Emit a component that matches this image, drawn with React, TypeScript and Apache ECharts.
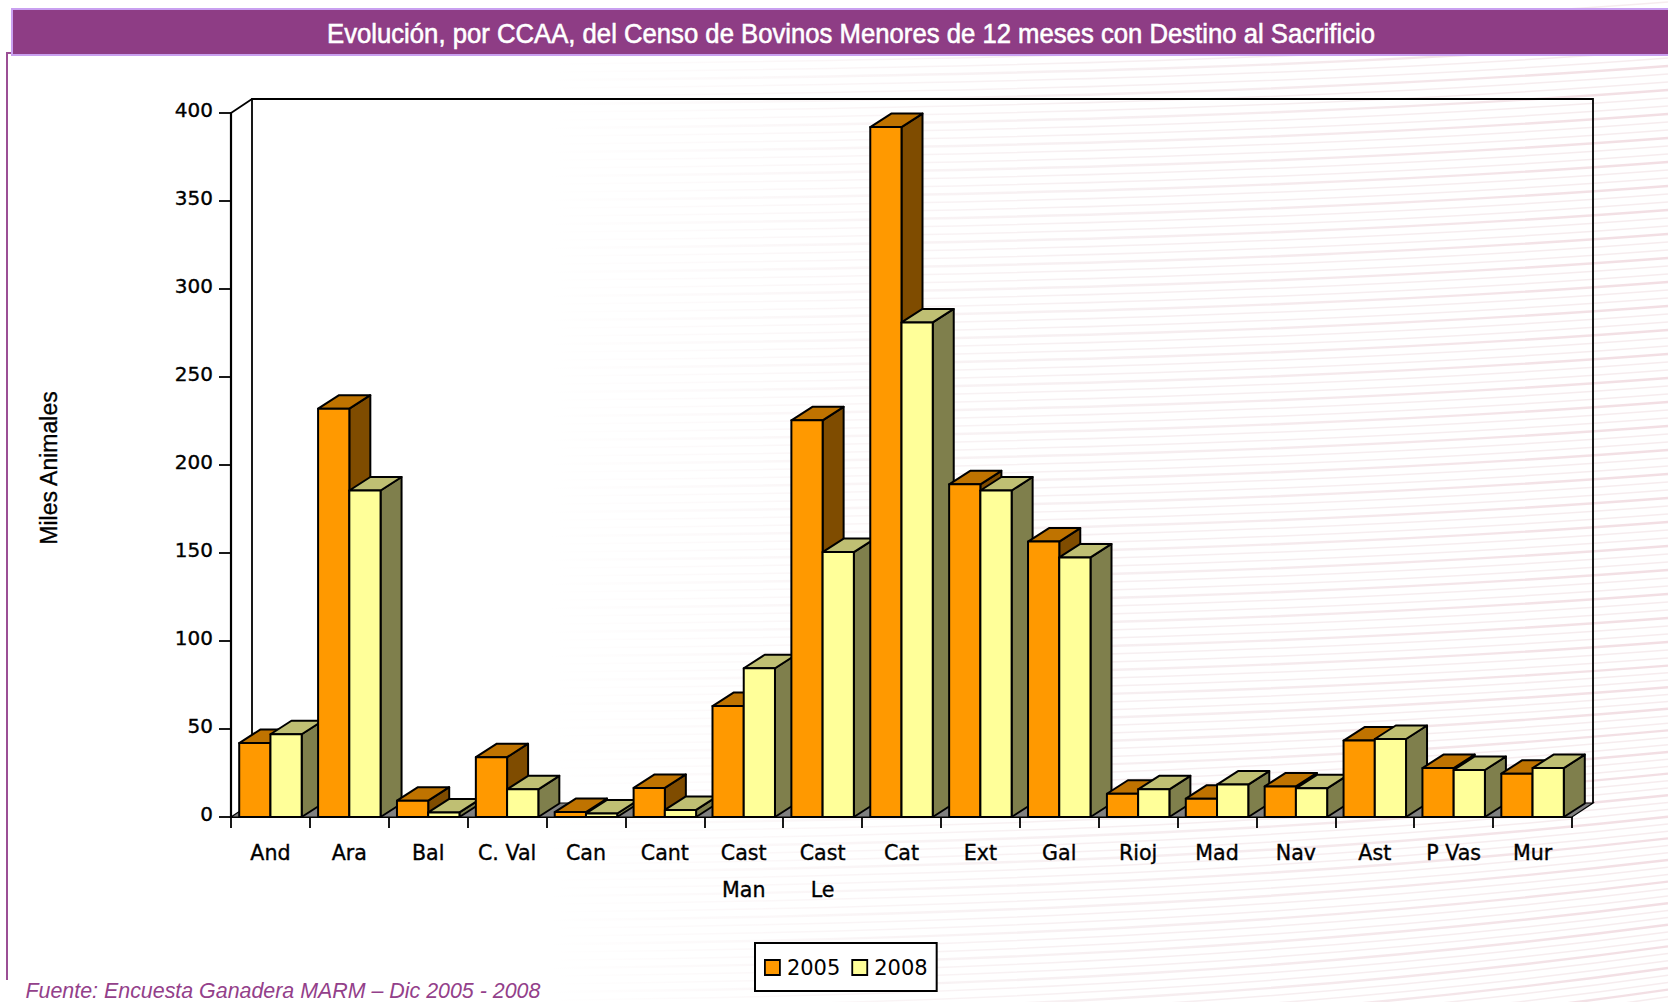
import React, { useEffect, useRef } from "react";
import * as echarts from "echarts";

const categories = ["And", "Ara", "Bal", "C. Val", "Can", "Cant", "Cast\nMan", "Cast\nLe", "Cat", "Ext", "Gal", "Rioj", "Mad", "Nav", "Ast", "P Vas", "Mur"];
const values2005 = [42, 232, 9.3, 34, 2.8, 16.5, 63, 225.4, 392, 189, 156.5, 13.2, 10.4, 17.4, 43.4, 27.8, 24.6];
const values2008 = [47, 185.5, 2.6, 15.7, 2, 4, 84.5, 150.5, 281, 185.5, 147.5, 15.7, 18.4, 16.3, 44.3, 26.7, 27.8];
const yTicks = { min: 0, max: 400, interval: 50 };
const titleText = "Evolución, por CCAA, del Censo de Bovinos Menores de 12 meses con Destino al Sacrificio";
const sourceText = "Fuente: Encuesta Ganadera MARM – Dic 2005 - 2008";
const yName = "Miles Animales";

const DX = 21;
const DY = 13.5;
const WALL_DY = 14;
const INK = "#000";

type Palette = { front: string; top: string; side: string };
const orange: Palette = { front: "#FF9900", top: "#BF7300", side: "#7F4C00" };
const yellow: Palette = { front: "#FFFF99", top: "#BFBF73", side: "#7F7F4C" };

function barRenderer(palette: Palette, seriesOrder: number) {
  return (_params: any, api: any) => {
    const idx = api.value(0);
    const center = api.coord([idx, 0])[0];
    const y0 = api.coord([idx, 0])[1];
    const y1 = api.coord([idx, api.value(1)])[1];
    const w = api.size([1, 0])[0] * 0.396;
    const x0 = seriesOrder === 0 ? center - w : center;
    const x1 = x0 + w;
    const z2 = idx * 2 + seriesOrder;
    const stroke = { stroke: INK, lineWidth: 2, lineJoin: "round" };
    return {
      type: "group",
      children: [
        { type: "polygon", z2, shape: { points: [[x1, y0], [x1 + DX, y0 - DY], [x1 + DX, y1 - DY], [x1, y1]] }, style: { fill: palette.side, ...stroke } },
        { type: "polygon", z2, shape: { points: [[x0, y1], [x0 + DX, y1 - DY], [x1 + DX, y1 - DY], [x1, y1]] }, style: { fill: palette.top, ...stroke } },
        { type: "polygon", z2, shape: { points: [[x0, y0], [x1, y0], [x1, y1], [x0, y1]] }, style: { fill: palette.front, ...stroke } },
      ],
    };
  };
}

function frameRenderer(params: any) {
  const { x, y, width, height } = params.coordSys;
  const b = y + height;
  const r = x + width;
  const line = { stroke: INK, lineWidth: 1.8, fill: "none" };
  return {
    type: "group",
    silent: true,
    children: [
      { type: "polygon", shape: { points: [[x, b], [x + DX, b - WALL_DY], [r + DX, b - WALL_DY], [r, b]] }, style: { fill: "#808080", stroke: INK, lineWidth: 1.2 } },
      { type: "polyline", shape: { points: [[x + DX, b - WALL_DY], [x + DX, y - WALL_DY], [r + DX, y - WALL_DY], [r + DX, b - WALL_DY]] }, style: line },
      { type: "line", shape: { x1: x, y1: y, x2: x + DX, y2: y - WALL_DY }, style: line },
    ],
  };
}

function backdrop(): any[] {
  const out: any[] = [];
  let n = 0;
  for (let y = 40; y < 1130; y += 8) {
    n += 1;
    const strong = n % 3 === 0;
    const bend = y > 700 ? (y - 700) * 0.1 : 0;
    out.push({
      type: "bezierCurve",
      silent: true,
      z: -10,
      shape: { x1: 550, y1: y, cpx1: 1000, cpy1: y - 4, cpx2: 1350, cpy2: y - 14 - bend * 0.4, x2: 1668, y2: y - 38 - bend },
      style: {
        fill: "none",
        lineWidth: strong ? 2.4 : 1.5,
        stroke: new echarts.graphic.LinearGradient(550, 0, 1668, 0, [
          { offset: 0, color: "rgba(240,225,228,0)" },
          { offset: 0.5, color: "rgba(243,232,235,0.7)" },
          { offset: 1, color: strong ? "rgba(242,222,227,1)" : "rgba(246,236,238,1)" },
        ], true),
      },
    });
  }
  return out;
}

export default function App() {
  const ref = useRef<HTMLDivElement>(null);
  useEffect(() => {
    document.body.style.margin = "0";
    const chart = echarts.init(ref.current!, undefined, { renderer: "svg" });
    const heavy = { textBorderColor: INK, textBorderWidth: 0.35 };
    chart.setOption({
      animation: false,
      backgroundColor: "#fff",
      grid: { left: 231, top: 113, width: 1341, height: 704 },
      xAxis: {
        type: "category",
        data: categories,
        boundaryGap: true,
        axisLine: { lineStyle: { color: INK, width: 2.2 } },
        axisTick: { show: true, length: 11, lineStyle: { color: INK, width: 1.8 } },
        axisLabel: { fontFamily: "DejaVu Sans", fontSize: 20.6, color: INK, ...heavy, interval: 0, margin: 17, lineHeight: 37 },
      },
      yAxis: {
        type: "value",
        ...yTicks,
        name: yName,
        nameLocation: "middle",
        nameGap: 171,
        nameRotate: 90,
        nameTextStyle: { fontFamily: "Liberation Sans", fontSize: 23, color: INK, ...heavy, padding: [0, 6, 0, 0] },
        axisLine: { show: true, lineStyle: { color: INK, width: 2.2 } },
        axisTick: { show: true, length: 12, lineStyle: { color: INK, width: 1.8 } },
        axisLabel: { fontFamily: "DejaVu Sans", fontSize: 20, color: INK, ...heavy, margin: 18, verticalAlign: "bottom", lineHeight: 7 },
        splitLine: { show: false },
      },
      legend: {
        left: 755,
        top: 943,
        data: [
          { name: "2005", itemStyle: { color: orange.front, borderColor: INK, borderWidth: 1.8 } },
          { name: "2008", itemStyle: { color: yellow.front, borderColor: INK, borderWidth: 1.8 } },
        ],
        icon: "rect",
        itemWidth: 15,
        itemHeight: 15,
        itemGap: 11,
        padding: [14, 9, 13, 9],
        backgroundColor: "#fff",
        borderColor: INK,
        borderWidth: 2,
        textStyle: { fontFamily: "DejaVu Sans", fontSize: 21, color: INK, padding: [0, 0, 0, 2] },
      },
      series: [
        { name: "frame", type: "custom", z: 1, silent: true, data: [[0, 0]], encode: { x: 0, y: 1 }, renderItem: frameRenderer },
        { name: "2005", type: "custom", z: 2, itemStyle: { color: orange.front }, data: values2005.map((v, i) => [i, v]), encode: { x: 0, y: 1 }, renderItem: barRenderer(orange, 0) },
        { name: "2008", type: "custom", z: 2, itemStyle: { color: yellow.front }, data: values2008.map((v, i) => [i, v]), encode: { x: 0, y: 1 }, renderItem: barRenderer(yellow, 1) },
      ],
      graphic: [
        ...backdrop(),
        { type: "polyline", silent: true, z: 3, shape: { points: [[12, 53], [7, 53], [7, 980]] }, style: { fill: "none", stroke: "#9B4F95", lineWidth: 2 } },
        { type: "rect", silent: true, z: 4, shape: { x: 12, y: 9, width: 1660, height: 46 }, style: { fill: "#8E3D85", stroke: "#C9A0F0", lineWidth: 2 } },
        { type: "text", silent: true, z: 5, x: 851, y: 34, scaleX: 0.918, style: { text: titleText, fill: "#fff", stroke: "#fff", lineWidth: 0.6, font: "28px 'Liberation Sans'", align: "center", verticalAlign: "middle" } },
        { type: "text", silent: true, z: 5, x: 25.5, y: 991, style: { text: sourceText, fill: "#93408A", font: "italic 21.4px 'Liberation Sans'", align: "left", verticalAlign: "middle" } },
      ],
    });
    return () => chart.dispose();
  }, []);
  return <div ref={ref} style={{ position: "absolute", left: 0, top: 0, width: 1668, height: 1002, overflow: "hidden" }} />;
}
